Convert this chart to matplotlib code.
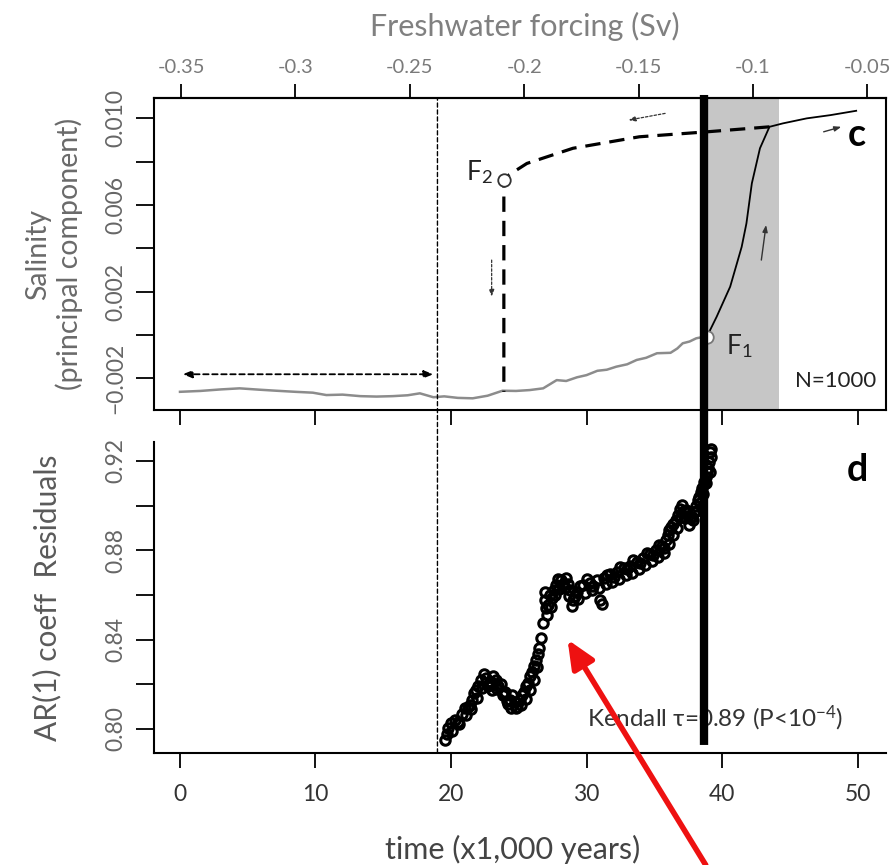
import matplotlib
matplotlib.use('Agg')
import matplotlib.pyplot as plt
from matplotlib.patches import ConnectionPatch
import numpy as np

plt.rcParams['font.family'] = ['Lato', 'DejaVu Sans']
plt.rcParams['mathtext.fontset'] = 'custom'
plt.rcParams['mathtext.rm'] = 'Lato'
plt.rcParams['mathtext.it'] = 'Lato:italic'

# lower (grey) branch of salinity vs time (kyr)
low_t = [0, 1.5, 3.0, 4.4, 5.8, 7.1, 8.5, 9.8, 10.8, 12.0, 13.3, 14.5, 15.7, 16.8,
         17.7, 18.7, 19.5, 20.5, 21.6, 22.7, 23.8, 24.8, 25.8, 26.8, 27.8, 28.5,
         29.3, 30.0, 30.8, 31.5, 32.2, 33.0, 33.7, 34.4, 35.2, 36.2, 36.7, 37.1,
         37.6, 38.1, 38.9]
low_v = [-0.00262, -0.00258, -0.00251, -0.00246, -0.00252, -0.00257, -0.00262,
         -0.00266, -0.00277, -0.00275, -0.00282, -0.00284, -0.00282, -0.00278,
         -0.00269, -0.00287, -0.00283, -0.00290, -0.00292, -0.00280, -0.00257,
         -0.00258, -0.00254, -0.00246, -0.00208, -0.00212, -0.00195, -0.00185,
         -0.00165, -0.00160, -0.00146, -0.00135, -0.00115, -0.00105, -0.00084,
         -0.00082, -0.00062, -0.00038, -0.00030, -0.00015, -0.00005]

# upper branch after the jump at F1
up_t = [38.9, 39.6, 40.6, 41.45, 41.8, 42.2, 42.8, 43.5, 44.5, 46.25, 48.0, 49.9]
up_v = [-0.00005, 0.00084, 0.00223, 0.00407, 0.00515, 0.0070, 0.00862, 0.00961,
        0.00977, 0.0100, 0.01015, 0.01035]

# return path (dashed) down to F2 and the collapse
ret_t = [43.5, 38.9, 33.9, 29.0, 25.6, 24.3, 23.9, 23.9]
ret_v = [0.00961, 0.00938, 0.00915, 0.00862, 0.00792, 0.0074, 0.00715, -0.00262]

f1 = (38.9, -0.00008)
f2 = (23.9, 0.00715)

# AR(1) coefficient of residuals (three overlapping traces of the dense cloud)
ar_t = [19.56, 19.8, 20.3, 20.8, 21.25, 21.55, 21.85, 22.2, 22.6, 22.95, 23.3, 23.7,
        24.0, 24.35, 24.7, 25.1, 25.4, 25.7, 26.0, 26.3, 26.5, 26.65, 26.8, 26.9,
        26.9, 27.15, 27.45, 27.75, 28.1, 28.5, 28.8, 29.0, 29.3, 29.75, 30.25, 30.8,
        31.0, 31.15, 31.3, 31.7, 32.25, 32.8, 33.2, 33.7, 34.2, 34.7, 35.1, 35.6,
        35.9, 36.1, 36.4, 36.75, 37.05, 37.35, 37.6, 37.9, 38.2, 38.45, 38.65, 38.9,
        39.05, 39.1,
        19.7, 20.0, 20.5, 21.0, 21.4, 21.7, 22.0, 22.4, 22.8, 23.1, 23.5, 23.85,
        24.2, 24.5, 24.9, 25.25, 25.55, 25.85, 26.15, 26.4, 27.0, 27.3, 27.6, 27.9,
        28.3, 28.65, 29.15, 29.5, 30.0, 30.5, 31.5, 32.0, 32.5, 33.0, 33.45, 33.95,
        34.45, 34.9, 35.35, 35.75, 36.0, 36.25, 36.6, 36.9, 37.2, 37.5, 37.75, 38.05,
        38.3, 38.55, 38.8, 39.0, 39.15, 39.2,
        20.1, 20.6, 21.1, 21.5, 21.9, 22.3, 22.7, 23.0, 23.4, 23.8, 24.1, 24.45,
        24.8, 25.2, 25.5, 25.8, 26.1, 26.35, 27.1, 27.35, 27.7, 28.0, 28.4, 28.7,
        28.95, 29.4, 29.9, 30.4, 30.9, 31.45, 31.9, 32.4, 32.9, 33.35, 33.85, 34.3,
        34.8, 35.25, 35.7, 36.05, 36.35, 36.7, 37.0, 37.3, 37.55, 37.85, 38.1, 38.4,
        38.6, 38.85, 39.1]
ar_v = [0.7951, 0.8004, 0.8040, 0.8067, 0.8099, 0.8130, 0.8175, 0.8219, 0.8228,
        0.8210, 0.8219, 0.8202, 0.8166, 0.8130, 0.8121, 0.8130, 0.8166, 0.8206,
        0.8255, 0.8309, 0.8363, 0.8408, 0.8475, 0.8578, 0.8614, 0.8555, 0.8587,
        0.8645, 0.8667, 0.8676, 0.8622, 0.8578, 0.8614, 0.8645, 0.8654, 0.8667,
        0.8578, 0.8560, 0.8676, 0.8694, 0.8703, 0.8721, 0.8730, 0.8748, 0.8766,
        0.8784, 0.8802, 0.8820, 0.8846, 0.8891, 0.8918, 0.8958, 0.9003, 0.8981,
        0.8945, 0.8972, 0.9025, 0.9061, 0.9106, 0.9151, 0.9196, 0.9240,
        0.7975, 0.8025, 0.8030, 0.8095, 0.8105, 0.8160, 0.8190, 0.8245, 0.8200,
        0.8235, 0.8190, 0.8150, 0.8110, 0.8150, 0.8100, 0.8150, 0.8190, 0.8235,
        0.8280, 0.8335, 0.8540, 0.8600, 0.8620, 0.8670, 0.8650, 0.8650, 0.8595,
        0.8640, 0.8670, 0.8640, 0.8690, 0.8680, 0.8725, 0.8715, 0.8755, 0.8745,
        0.8790, 0.8780, 0.8825, 0.8810, 0.8870, 0.8905, 0.8935, 0.8985, 0.8975,
        0.8955, 0.8950, 0.9000, 0.9040, 0.9080, 0.9130, 0.9170, 0.9220, 0.9255,
        0.7990, 0.8020, 0.8060, 0.8090, 0.8140, 0.8185, 0.8190, 0.8175, 0.8180,
        0.8160, 0.8125, 0.8095, 0.8095, 0.8105, 0.8135, 0.8175, 0.8220, 0.8275,
        0.8510, 0.8545, 0.8600, 0.8625, 0.8630, 0.8595, 0.8550, 0.8580, 0.8610,
        0.8620, 0.8630, 0.8650, 0.8660, 0.8670, 0.8690, 0.8700, 0.8715, 0.8735,
        0.8750, 0.8770, 0.8790, 0.8830, 0.8870, 0.8900, 0.8950, 0.8945, 0.8915,
        0.8935, 0.8975, 0.9010, 0.9050, 0.9100, 0.9150]

time_ticks = [0, 10, 20, 30, 40, 50]
sal_ticks = [-0.002, 0.0, 0.002, 0.004, 0.006, 0.008, 0.010]
sal_labels = ['\u22120.002', '', '0.002', '', '0.006', '', '0.010']
ar_ticks = [0.80, 0.82, 0.84, 0.86, 0.88, 0.90, 0.92]
ar_labels = ['0.80', '', '0.84', '', '0.88', '', '0.92']
fw_ticks = [-0.35, -0.3, -0.25, -0.2, -0.15, -0.1, -0.05]
fw_labels = ['-0.35', '-0.3', '-0.25', '-0.2', '-0.15', '-0.1', '-0.05']

transition = 19.0
marker_t = 38.67
shade = (38.7, 44.2)

fig = plt.figure(figsize=(8.9, 8.65), dpi=100)
ax_c = fig.add_axes([0.1730, 0.5260, 0.8225, 0.3607])
ax_d = fig.add_axes([0.1730, 0.1295, 0.8225, 0.3595])

xlim = (-1.92, 52.1)
tick_fs = 16.5

# ---- panel c ----
ax_c.set_xlim(xlim)
ax_c.set_ylim(-0.00346, 0.01094)
ax_c.axvspan(shade[0], shade[1], color='#c6c6c6', lw=0, zorder=0)
ax_c.plot(low_t, low_v, color='#8c8c8c', lw=1.8, zorder=2)
ax_c.plot(up_t, up_v, color='black', lw=1.3, zorder=2)
ax_c.plot(ret_t, ret_v, color='black', lw=2.3, dashes=(4.8, 2.8), zorder=2)
ax_c.plot([f2[0]], [f2[1]], 'o', ms=9, mfc='white', mec='#333333', mew=1.3, zorder=3)
ax_c.plot([f1[0]], [f1[1]], 'o', ms=9, mfc='white', mec='#777777', mew=1.3, zorder=3)

arr_dash = dict(arrowstyle='<|-|>,head_length=0.55,head_width=0.22', lw=1.3,
                color='black', ls=(0, (3, 2)), shrinkA=0, shrinkB=0)
ax_c.annotate('', xy=(18.7, -0.00181), xytext=(0.2, -0.00181), arrowprops=arr_dash)
small_dash = dict(arrowstyle='-|>,head_length=0.4,head_width=0.15', lw=0.9,
                  color='#333333', ls=(0, (2, 1.5)), shrinkA=0, shrinkB=0)
ax_c.annotate('', xy=(33.1, 0.00992), xytext=(35.8, 0.01023), arrowprops=small_dash)
ax_c.annotate('', xy=(23.0, 0.00177), xytext=(23.0, 0.00346), arrowprops=small_dash)
small_solid = dict(arrowstyle='-|>,head_length=0.4,head_width=0.15', lw=1.0,
                   color='#333333', shrinkA=0, shrinkB=0)
ax_c.annotate('', xy=(48.8, 0.00961), xytext=(47.5, 0.00938), arrowprops=small_solid)
ax_c.annotate('', xy=(43.25, 0.00508), xytext=(42.9, 0.00346), arrowprops=small_solid)

ax_c.text(23.1, 0.00752, 'F$_2$', fontsize=19, ha='right', va='center', color='#222222')
ax_c.text(40.3, -0.00050, 'F$_1$', fontsize=19, ha='left', va='center', color='#222222')
ax_c.text(49.96, 0.00923, 'c', fontsize=27, fontweight='bold', ha='center', va='center')
ax_c.text(51.4, -0.00212, 'N=1000', fontsize=16, ha='right', va='center', color='#222222')

ax_c.set_xticks(time_ticks)
ax_c.set_xticklabels([])
ax_c.set_yticks(sal_ticks)
ax_c.set_yticklabels(sal_labels, rotation=90, va='center', color='#666666', fontsize=tick_fs)
ax_c.tick_params(axis='x', direction='out', length=11, width=1.3)
ax_c.tick_params(axis='y', direction='out', length=13, width=1.3, pad=7)
for s in ax_c.spines.values():
    s.set_linewidth(1.5)
ax_c.set_ylabel('Salinity\n(principal component)', fontsize=20.5, color='#6a6a6a',
                linespacing=1.2)
ax_c.yaxis.set_label_coords(-0.097, 0.5)


def t2f(t):
    return -0.3505 + 0.005925 * np.asarray(t)


def f2t(f):
    return (np.asarray(f) + 0.3505) / 0.005925


sec = ax_c.secondary_xaxis('top', functions=(t2f, f2t))
sec.set_xticks(fw_ticks)
sec.set_xticklabels(fw_labels, color='#7a7a7a', fontsize=14.5)
sec.tick_params(direction='out', length=10, width=1.3, pad=6)
sec.spines['top'].set_linewidth(1.5)
fig.text(525 / 890, 1 - 26 / 865, 'Freshwater forcing (Sv)', fontsize=22,
         color='#808080', ha='center', va='center')

# ---- panel d ----
ax_d.set_xlim(xlim)
ax_d.set_ylim(0.7892, 0.9285)
ax_d.plot(ar_t, ar_v, 'o', ms=6.8, mfc='none', mec='black', mew=2.2, zorder=2)
ax_d.spines['top'].set_visible(False)
ax_d.spines['right'].set_visible(False)
for s in ('left', 'bottom'):
    ax_d.spines[s].set_linewidth(1.5)
ax_d.set_xticks(time_ticks)
ax_d.set_xticklabels([str(v) for v in time_ticks], color='#333333', fontsize=tick_fs)
ax_d.set_yticks(ar_ticks)
ax_d.set_yticklabels(ar_labels, rotation=90, va='center', color='#666666', fontsize=tick_fs)
ax_d.tick_params(axis='x', direction='out', length=11, width=1.3, pad=11)
ax_d.tick_params(axis='y', direction='out', length=13, width=1.3, pad=7)
ax_d.set_ylabel('AR(1) coeff  Residuals', fontsize=21.5, color='#5a5a5a')
ax_d.yaxis.set_label_coords(-0.126, 0.5)
ax_d.set_xlabel('time (x1,000 years)', fontsize=22, color='#444444')
ax_d.xaxis.set_label_coords(0.49, -0.262)
ax_d.text(50.0, 0.916, 'd', fontsize=27, fontweight='bold', ha='center', va='center')
ax_d.text(30.0, 0.8049, 'Kendall \u03c4=0.89 (P<10$^{-4}$)', fontsize=17.5,
          ha='left', va='center', color='#333333')

# dashed line marking the transition, across both panels
fig.add_artist(ConnectionPatch(xyA=(transition, 0.7892), coordsA=ax_d.transData,
                               xyB=(transition, 0.01094), coordsB=ax_c.transData,
                               color='black', lw=1.0, ls=(0, (3, 2)), zorder=5))
# thick black marker line drawn over both panels
fig.add_artist(ConnectionPatch(xyA=(marker_t, 0.7928), coordsA=ax_d.transData,
                               xyB=(marker_t, 0.01108), coordsB=ax_c.transData,
                               color='black', lw=6, zorder=6, capstyle='butt'))
# red arrow pointing at the jump
ax_d.annotate('', xy=(28.6, 0.840), xytext=(38.8, 0.739), xycoords='data',
              arrowprops=dict(arrowstyle='-|>,head_length=1.7,head_width=0.75',
                              color='#ee1111', lw=4, shrinkA=0, shrinkB=0),
              annotation_clip=False, zorder=7)

fig.savefig('out.png', dpi=100)
